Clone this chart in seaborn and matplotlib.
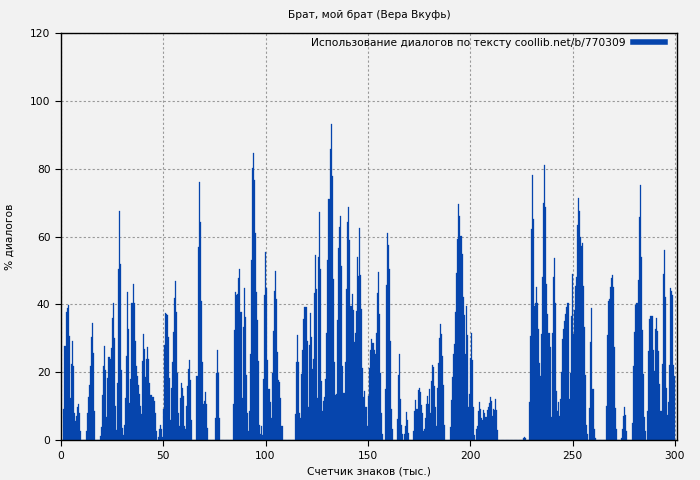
import numpy as np
import pandas as pd
import seaborn as sns
import matplotlib.pyplot as plt
from matplotlib.lines import Line2D

# % of dialogue per 500-character step, split by every 50k characters
pct_0_50 = [0, 0, 0,
            9.1, 27.7, 37.7, 38.9, 39.9, 30.7, 12.4, 22.6, 29.2, 22, 8, 5.6, 7, 9.7, 10.6, 8, 2.7,
            0, 0, 0, 0, 0,
            2.7, 8, 12.7, 16.2, 22, 30.4, 34.5, 25.7, 8.6,
            0, 0, 0, 0, 0,
            1.2, 3.8, 13.3, 21.8, 27.7, 20.6, 6.8, 18.3, 24.5, 23.9,
            27.1, 36, 40.4, 30, 10, 3, 16.8, 50.4, 67.5, 51.9,
            20.6, 3.5, 1.5, 4.4, 12.4, 24.8, 43.6, 32.7, 10.9,
            18, 40.4, 40.4, 46, 40.4, 29.2, 21.8, 18.9, 16.2, 13.6,
            10, 7.7, 23.3, 31.3, 26.8, 18.6, 23.9, 27.4, 23.9, 16.8,
            13.3, 13.3, 12.7, 11.5, 8, 2.7, 0, 0.9, 3.2, 4.4, 3.2, 0.9]

pct_50_100 = [9.1, 28, 37.4, 37.1, 36.9, 30.4, 18.3, 5.9, 15.3,
              23, 31.8, 41.9, 46.9, 37.7, 19.8, 8, 4.1, 12.4, 16.8,
              15.3, 13, 4.1, 3.2, 10, 15.9, 20.9, 23.6, 17.7, 5.9,
              0, 0, 0, 0,
              18.9, 56.9, 76.1, 64.3, 41, 23, 10.6, 11.5, 14.2, 10.6, 3.5,
              0, 0, 0, 0, 0, 0, 0,
              6.5, 19.8, 26.5, 19.8, 6.5,
              0, 0, 0, 0, 0, 0, 0, 0, 0, 0, 0, 0, 0,
              10.6, 32.4, 43.6, 42.8, 43, 47.8, 50.4, 37.7, 12.4, 33.3,
              44.8, 36.3, 19.2, 8, 2.7, 8.6, 25.4, 53, 80.2, 84.6,
              76.7, 61, 43.6, 35.4, 23.3, 4.4, 1.8, 4.1, 1.5,
              18, 42.8]

pct_100_150 = [55.4, 44.8, 23.6, 15, 15, 11.2, 6.5, 19.8,
               32.1, 43.9, 49.8, 41.6, 26, 17.7, 17.1, 12.4, 4.1, 4.1,
               0, 0, 0, 0, 0, 0, 0, 0, 0, 0, 0,
               7.7, 23, 31, 23, 8, 6.5, 19.5, 26.5, 35.7,
               39.2, 39.2, 39.2, 29.2, 9.7, 28, 37.4, 30.4, 20.9, 23.9,
               43.3, 54.5, 44.5, 12.4, 54, 67.2, 50.4, 17.4, 8.6, 11.5,
               12.7, 18, 31.5, 53, 71, 85.8, 93.2, 77.8, 47.5, 23,
               13.3, 13.6, 35.4, 56.6, 62.8, 66, 51.3, 21.8, 13.9, 13.9,
               23, 44.5, 64.3, 68.7, 59, 39.5, 39.5, 43, 38.3,
               28.9, 31.5, 38, 54, 48.4, 62.5, 48.6, 38.6, 21.2, 12.7,
               14.4, 9.7, 9.7]

pct_150_200 = [4.1, 13, 21.2, 26.5, 29.8, 28.6, 26.5,
               25.4, 31.5, 43.3, 49.5, 37.1, 19.8, 8, 1.8, 0, 0,
               15, 45.7, 61, 57.5, 50.4, 29.2, 9.1, 3.2,
               0, 0, 0, 0,
               6.2, 19.2, 25.4, 12.1, 4.4, 1.8, 0, 1.8, 4.1, 8.3, 5.9, 2.1,
               0, 0, 0, 0,
               2.7, 8.6, 11.8, 9.1, 14.7, 15.3, 14.2, 10.3, 8, 2.7,
               3.2, 6.5, 10.6, 13, 10.6, 15, 8, 17.4, 22.1, 21.5,
               15.9, 9.7, 4.1, 15.3, 22.7, 30, 34.2, 31.3, 24.8, 16.2, 4.4,
               0, 0, 0, 0, 0,
               3.8, 11.8, 18.6, 25.4, 28.3, 37.7, 49.2, 59.3, 69.6, 66,
               60.2, 54.8, 42.2, 36.9, 25.4, 39.5, 31, 9.7, 13.6]

pct_200_250 = [24.2, 31.5, 23.6, 9.7, 1.5, 0, 3.2, 4.1, 8.6,
               11.2, 9.1, 6.5, 5.9, 8.8, 8, 6.8, 6.8, 8.8, 9.7,
               10.9, 12.7, 11.5, 7.1, 9.1, 8.8, 12.1, 8.8, 2.9,
               0, 0, 0, 0, 0, 0, 0, 0, 0, 0, 0, 0,
               0, 0, 0, 0, 0, 0, 0, 0, 0, 0, 0, 0,
               0.6, 0.9, 0.6,
               0, 0, 0,
               11.2, 30.7, 62.2, 78.1, 65.2, 39.5, 40.4, 45.1, 40.4, 32.7,
               22.7, 18.9, 31.3, 48.1, 69.9, 81.1, 68.7, 46, 37.1, 31.5,
               27.4, 6.8, 31.5, 48.1, 53.7, 40.4, 14.4, 8.6, 11.2, 7.1,
               12.1, 20, 29.8, 32.7, 35.1, 37.1, 39.2, 40.4, 40.4,
               12.1, 19.8, 36.6]

pct_250_300 = [48.9, 31.3, 38.3, 45.4, 48.1, 63.4, 71.3,
               67.5, 59.9, 57.2, 58.1, 45.4, 33.3, 19.2, 4.4, 1.8, 0,
               9.4, 28.9, 38.9, 15, 3.2, 0.6,
               0, 0, 0, 0, 0, 0, 0, 0, 0, 0,
               10, 31, 41, 41.6, 45.1, 47.8, 48.6, 45.1, 27.4, 9.4, 3.2,
               0, 0, 0, 0,
               0.6, 3.2, 7.1, 9.7, 7.4, 2.7,
               0, 0, 0, 0, 0,
               5, 21.8, 31.8, 39.8, 40.4, 47.2, 65.7, 75.2, 54, 32.4,
               19.5, 6.8, 2.7, 0, 8.6, 26.2, 35.7, 36.6, 36.6, 36.6,
               26.5, 20.3, 32.7, 36, 32.1, 26.2, 16.5, 8.6, 8.6,
               22.6, 48.9, 56, 42.2, 15.3, 7.4, 11.2, 22.1, 44.8, 43.9, 42.8, 22.1, 19]

pct = pct_0_50 + pct_50_100 + pct_100_150 + pct_150_200 + pct_200_250 + pct_250_300
chars_k = np.arange(len(pct)) * 0.5

title = "Брат, мой брат (Вера Вкуфь)"
legend_label = "Использование диалогов по тексту coollib.net/b/770309"
bar_color = "#0645ad"
bg = "#f2f2f2"

df = pd.DataFrame({"chars": chars_k, "pct": pct})

plt.rcParams["font.family"] = ["DejaVu Sans"]
fs = 7.7

fig, ax = plt.subplots(figsize=(7, 4.8), dpi=100)
fig.patch.set_facecolor(bg)
ax.set_facecolor(bg)
fig.subplots_adjust(left=0.087, right=0.967, top=0.931, bottom=0.083)

sns.barplot(data=df, x="chars", y="pct", native_scale=True, width=1,
            color=bar_color, saturation=1, errorbar=None,
            edgecolor=bar_color, linewidth=0.2, ax=ax)

ax.set_xlim(0, 301)
ax.set_ylim(0, 120)
ax.set_xticks(range(0, 301, 50))
ax.set_yticks(range(0, 121, 20))
ax.grid(True, color="#999999", linestyle=(0, (2, 2)), linewidth=0.8)
ax.set_axisbelow(True)
for s in ax.spines.values():
    s.set_color("black")
    s.set_linewidth(1)
ax.tick_params(direction="out", length=4, labelsize=fs, colors="black")

ax.set_title(title, fontsize=fs, pad=11)
ax.set_xlabel("Счетчик знаков (тыс.)", fontsize=fs)
ax.set_ylabel("% диалогов", fontsize=fs, labelpad=11)

handle = Line2D([], [], color=bar_color, lw=4)
ax.legend([handle], [legend_label], loc="upper right",
          bbox_to_anchor=(0.9875, 0.998), frameon=False,
          markerfirst=False, fontsize=fs, handlelength=3.0,
          borderaxespad=0, handletextpad=0.7)

fig.savefig("out.png", dpi=100, facecolor=bg)
